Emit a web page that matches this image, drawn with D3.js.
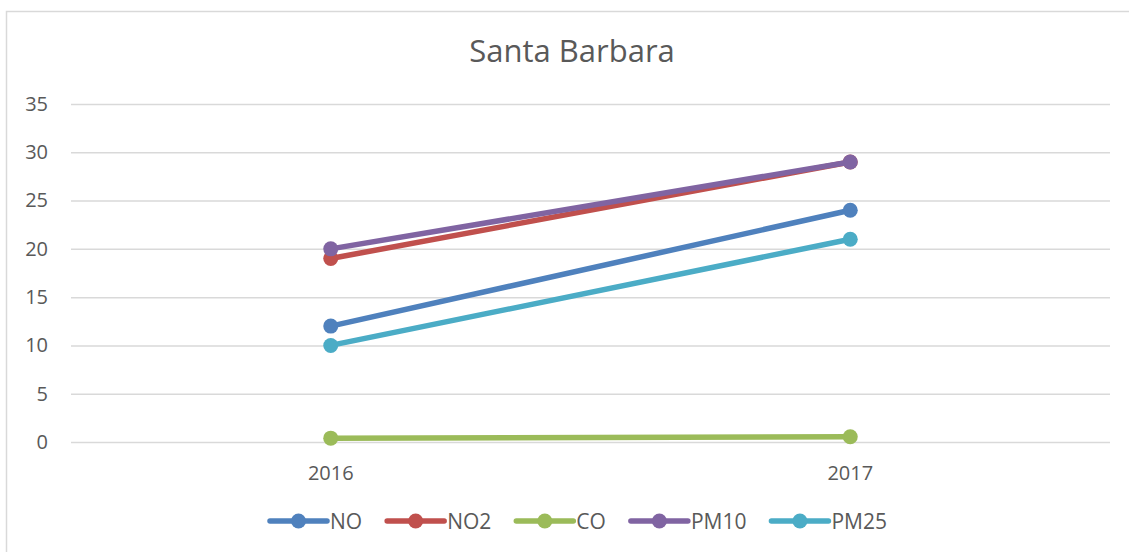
<!DOCTYPE html>
<html>
<head>
<meta charset="utf-8">
<script src="https://cdn.jsdelivr.net/npm/d3@7"></script>
<style>
    body { margin: 0; background: #fff; }
    svg text { font-family: "Open Sans", "Noto Sans", sans-serif; fill: #595959; }
</style>
</head>
<body>
<svg id="chart" width="1129" height="552"></svg>
<script>
const years = ['2016', '2017'];
const seriesNames = ['NO', 'NO2', 'CO', 'PM10', 'PM25'];
const noValues = [12, 24];
const no2Values = [19, 29];
const coValues = [0.4, 0.55];
const pm10Values = [20, 29];
const pm25Values = [10, 21];
const yTicks = [0, 5, 10, 15, 20, 25, 30, 35];
const colors = ['#4F81BD', '#C0504D', '#9BBB59', '#8064A2', '#4BACC6'];

const allValues = [noValues, no2Values, coValues, pm10Values, pm25Values];
const series = seriesNames.map(function (name, i) {
    return { name: name, color: colors[i], values: allValues[i].map(function (v, j) { return { year: years[j], value: v }; }) };
});

const svg = d3.select('#chart');
const plot = { left: 71, right: 1110, top: 104, bottom: 442 };

// chart frame
svg.append('rect')
    .attr('x', 6.5).attr('y', 11.5)
    .attr('width', 1140).attr('height', 560)
    .attr('fill', 'none')
    .attr('stroke', '#d9d9d9')
    .attr('stroke-width', 1.5);

svg.append('text')
    .attr('x', 572).attr('y', 62)
    .attr('text-anchor', 'middle')
    .style('font-size', '31px')
    .text('Santa Barbara');

const x = d3.scaleBand().domain(years).range([plot.left, plot.right]);
const y = d3.scaleLinear().domain([0, 35]).range([plot.bottom, plot.top]);

// gridlines + y labels
const yAxis = svg.append('g')
    .attr('transform', 'translate(' + plot.left + ',0)')
    .call(d3.axisLeft(y).tickValues(yTicks).tickSize(-(plot.right - plot.left)).tickPadding(23));
yAxis.select('.domain').remove();
yAxis.selectAll('line').attr('stroke', '#d9d9d9').attr('stroke-width', 1.5);
yAxis.selectAll('text').style('font-size', '20px').attr('fill', '#595959').attr('font-family', null);

// x labels
const xAxis = svg.append('g')
    .attr('transform', 'translate(0,' + plot.bottom + ')')
    .call(d3.axisBottom(x).tickSize(0).tickPadding(24));
xAxis.select('.domain').remove();
xAxis.selectAll('text').style('font-size', '20px').attr('fill', '#595959').attr('font-family', null);

const line = d3.line()
    .x(function (d) { return x(d.year) + x.bandwidth() / 2; })
    .y(function (d) { return y(d.value); });

const groups = svg.append('g').selectAll('g')
    .data(series)
    .join('g');

groups.append('path')
    .attr('d', function (d) { return line(d.values); })
    .attr('fill', 'none')
    .attr('stroke', function (d) { return d.color; })
    .attr('stroke-width', 5.5)
    .attr('stroke-linecap', 'round');

groups.selectAll('circle')
    .data(function (d) { return d.values.map(function (v) { return Object.assign({ color: d.color }, v); }); })
    .join('circle')
    .attr('cx', function (d) { return x(d.year) + x.bandwidth() / 2; })
    .attr('cy', function (d) { return y(d.value); })
    .attr('r', 7.5)
    .attr('fill', function (d) { return d.color; });

// legend
const legend = svg.append('g').attr('transform', 'translate(270,521)');
let offset = 0;
series.forEach(function (s) {
    const item = legend.append('g').attr('transform', 'translate(' + offset + ',0)');
    item.append('line')
        .attr('x1', 0).attr('x2', 57)
        .attr('stroke', s.color).attr('stroke-width', 5.5).attr('stroke-linecap', 'round');
    item.append('circle').attr('cx', 28.5).attr('r', 7.5).attr('fill', s.color);
    const t = item.append('text')
        .attr('x', 60).attr('y', 7.5)
        .style('font-size', '21px')
        .text(s.name);
    offset += 61 + t.node().getComputedTextLength() + 24;
});
</script>
</body>
</html>
